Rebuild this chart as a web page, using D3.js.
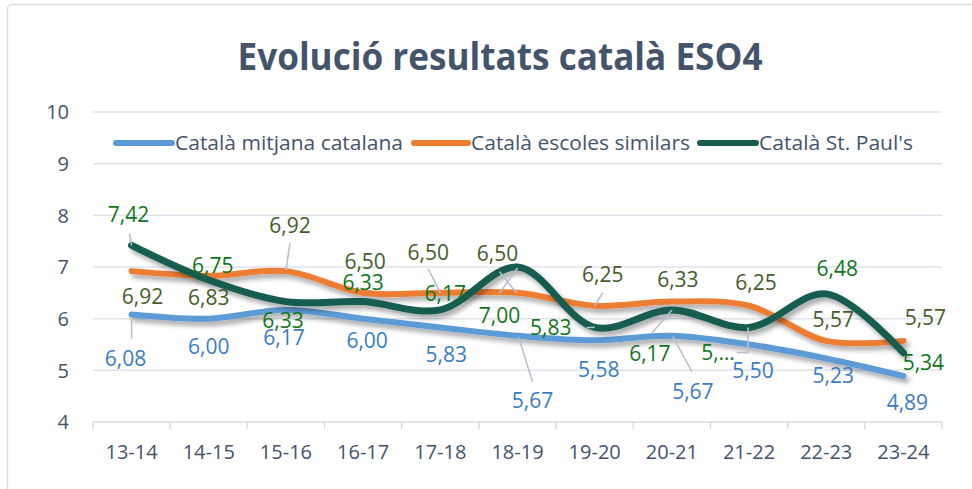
<!DOCTYPE html>
<html>
<head>
<meta charset="utf-8">
<script src="https://cdn.jsdelivr.net/npm/d3@7"></script>
<style>
  html, body { margin: 0; padding: 0; background: #fff; }
  svg { display: block; font-family: 'Open Sans', 'Noto Sans', sans-serif; }
</style>
</head>
<body>
<div id="chart"></div>
<script>
// chart values
const years = ['13-14', '14-15', '15-16', '16-17', '17-18', '18-19', '19-20', '20-21', '21-22', '22-23', '23-24'];
const mitjana = [6.08, 6.00, 6.17, 6.00, 5.83, 5.67, 5.58, 5.67, 5.50, 5.23, 4.89];
const similars = [6.92, 6.83, 6.92, 6.50, 6.50, 6.50, 6.25, 6.33, 6.25, 5.57, 5.57];
const stPauls = [7.42, 6.75, 6.33, 6.33, 6.17, 7.00, 5.83, 6.17, 5.83, 6.48, 5.34];
const seriesNames = ['Català mitjana catalana', 'Català escoles similars', "Català St. Paul's"];
const yTicks = [4, 5, 6, 7, 8, 9, 10];

// label placement (pixel offsets from the point) and leader line start, per series
const blueLabels = [[-6, 44, [0, 4], [0, 24]], [0, 28], [-2, 28], [4, 22], [6, 27], [15, 65, [1, 1], [15, 46]], [4, 29], [21, 56, [1, 1], [20, 36]], [4, 26], [7, 17], [4, 26]];
const orangeLabels = [[11, 25], [0, 22], [4, -46, [0, -1], [4, -28]], [2, -31], [-12, -40, [0, 0], [-12, -24]], [-20, -39, [-1, 0], [-18, -21]], [8, -31, [0, 0], [8, -13]], [6, -22], [7, -23], [7, -21], [22, -23]];
const greenLabels = [[-3, -31, [0, 0], [-2, -12]], [4, -14], [-3, 19], [0, -19], [5, -16], [-18, 48, [0, 1], [-18, 26]], [-44, 0, [0, 0], [-8, 0]], [-22, 44, [0, 0], [-20, 23]], [-31, 25, [-1, 0], [-1, 25], [-12, 25]], [11, -25], [20, 10]];

const width = 972, height = 489;
const margin = { left: 93, right: 30, top: 112, bottom: 67 };

const svg = d3.select('#chart').append('svg')
    .attr('width', width)
    .attr('height', height);

// drop shadow like the spreadsheet line effect
const defs = svg.append('defs');
const shadow = defs.append('filter')
    .attr('id', 'shadow')
    .attr('x', '-10%').attr('y', '-30%')
    .attr('width', '120%').attr('height', '160%');
shadow.append('feDropShadow')
    .attr('dx', 3).attr('dy', 4)
    .attr('stdDeviation', 2.5)
    .attr('flood-color', '#000')
    .attr('flood-opacity', 0.35);

// outer chart border
svg.append('rect')
    .attr('x', 7.5).attr('y', 4.5)
    .attr('width', width + 20).attr('height', height + 20)
    .attr('rx', 4)
    .attr('fill', 'none')
    .attr('stroke', '#d9dee8')
    .attr('stroke-width', 1.5);

const xScale = d3.scaleBand()
    .domain(years)
    .range([margin.left, 942]);

const yScale = d3.scaleLinear()
    .domain([4, 10])
    .range([422, margin.top]);

const px = i => xScale(years[i]) + xScale.bandwidth() / 2;

// grid lines
svg.append('g')
    .selectAll('line')
    .data(yTicks)
    .enter()
    .append('line')
        .attr('x1', margin.left)
        .attr('x2', 942)
        .attr('y1', d => yScale(d))
        .attr('y2', d => yScale(d))
        .attr('stroke', d => d === 4 ? '#d6dbe4' : '#e0e3ea')
        .attr('stroke-width', 1.5);

// y axis labels
svg.append('g')
    .selectAll('text')
    .data(yTicks)
    .enter()
    .append('text')
        .attr('x', 69)
        .attr('y', d => yScale(d))
        .attr('dy', '0.36em')
        .attr('text-anchor', 'end')
        .attr('font-size', 20)
        .attr('fill', '#44546a')
        .text(d => d);

// x axis tick marks
const bounds = years.map(y => xScale(y)).concat([942]);
svg.append('g')
    .selectAll('line')
    .data(bounds)
    .enter()
    .append('line')
        .attr('x1', d => d)
        .attr('x2', d => d)
        .attr('y1', 422)
        .attr('y2', 429)
        .attr('stroke', '#d6dbe4')
        .attr('stroke-width', 1.5);

// x axis labels
svg.append('g')
    .selectAll('text')
    .data(years)
    .enter()
    .append('text')
        .attr('x', d => xScale(d) + xScale.bandwidth() / 2)
        .attr('y', 452)
        .attr('dy', '0.36em')
        .attr('text-anchor', 'middle')
        .attr('font-size', 20)
        .attr('fill', '#44546a')
        .text(d => d);

// title
svg.append('text')
    .attr('x', 500)
    .attr('y', 70)
    .attr('text-anchor', 'middle')
    .attr('font-size', 37)
    .attr('font-weight', 'bold')
    .attr('fill', '#44546a')
    .attr('textLength', 525)
    .attr('lengthAdjust', 'spacingAndGlyphs')
    .text('Evolució resultats català ESO4');

const series = [
    { values: mitjana, color: '#5b9bd5', width: 6, labelColor: '#3a7cc3', labels: blueLabels },
    { values: similars, color: '#ed7d31', width: 6, labelColor: '#465c2c', labels: orangeLabels },
    { values: stPauls, color: '#175c50', width: 7, labelColor: '#11761b', labels: greenLabels }
];

// legend
const legendItems = [
    { x1: 116, x2: 172, tx: 175, tl: 228 },
    { x1: 414, x2: 468, tx: 471, tl: 219 },
    { x1: 700, x2: 756, tx: 759, tl: 154 }
];
const legend = svg.append('g');
legendItems.forEach((d, i) => {
    legend.append('line')
        .attr('x1', d.x1).attr('x2', d.x2)
        .attr('y1', 143).attr('y2', 143)
        .attr('stroke', series[i].color)
        .attr('stroke-width', 6)
        .attr('stroke-linecap', 'round');
    legend.append('text')
        .attr('x', d.tx)
        .attr('y', 143)
        .attr('dy', '0.36em')
        .attr('font-size', 20)
        .attr('fill', '#44546a')
        .attr('textLength', d.tl)
        .attr('lengthAdjust', 'spacingAndGlyphs')
        .text(seriesNames[i]);
});

const line = d3.line()
    .x((d, i) => px(i))
    .y(d => yScale(d))
    .curve(d3.curveCatmullRom.alpha(0.5));

const linesG = svg.append('g');
series.forEach(s => {
    linesG.append('path')
        .datum(s.values)
        .attr('fill', 'none')
        .attr('stroke', s.color)
        .attr('stroke-width', s.width)
        .attr('stroke-linecap', 'round')
        .attr('filter', 'url(#shadow)')
        .attr('d', line);
});

// leader lines
const leaderG = svg.append('g');
series.forEach(s => {
    s.values.forEach((v, i) => {
        const lab = s.labels[i];
        if (lab.length < 3) return;
        const x0 = px(i), y0 = yScale(v);
        const pts = [[x0 + lab[2][0], y0 + lab[2][1]]].concat(lab.slice(3).map(p => [x0 + p[0], y0 + p[1]]));
        leaderG.append('path')
            .attr('d', d3.line()(pts))
            .attr('fill', 'none')
            .attr('stroke', '#b4bfcf')
            .attr('stroke-width', 1.5);
    });
});

// data labels
const labelsG = svg.append('g');
series.forEach((s, k) => {
    labelsG.append('g')
        .selectAll('text')
        .data(s.values)
        .enter()
        .append('text')
            .attr('x', (d, i) => px(i) + s.labels[i][0])
            .attr('y', (d, i) => yScale(d) + s.labels[i][1])
            .attr('dy', '0.36em')
            .attr('text-anchor', 'middle')
            .attr('font-size', 21)
            .attr('fill', s.labelColor)
            .text((d, i) => (k === 2 && i === 8) ? '5,…' : d.toFixed(2).replace('.', ','));
});
</script>
</body>
</html>
